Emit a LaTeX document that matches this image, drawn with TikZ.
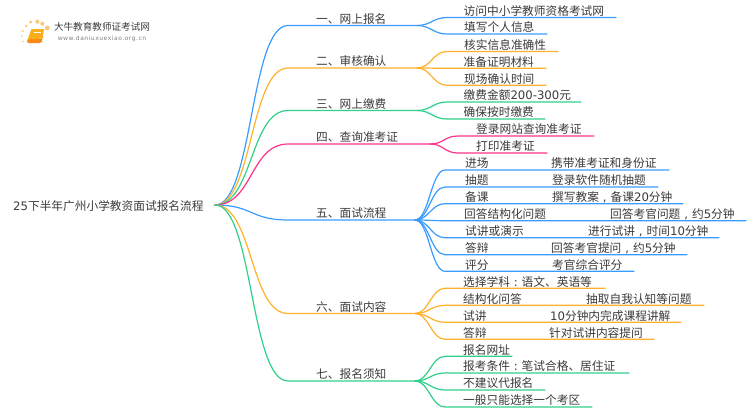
\documentclass[tikz,border=0pt]{standalone}
\usepackage{fontspec}
\setmainfont{Noto Sans CJK SC}
\newfontfamily\latinfont{DejaVu Sans}
\newfontfamily\urlfont[LetterSpace=8.7]{DejaVu Sans}
\newcommand{\wcomma}{\makebox[11.7pt]{\latinfont ,}}
\newcommand{\wcolon}{\makebox[11.7pt]{\latinfont :}}
\definecolor{mapblue}{HTML}{3A9BFF}
\definecolor{maporange}{HTML}{FFB12B}
\definecolor{mapgreen}{HTML}{2FD08A}
\definecolor{mappink}{HTML}{FF3388}
\definecolor{maptext}{HTML}{3A3A3A}
\definecolor{logoorange}{HTML}{F7A11E}
\tikzset{
  leaf/.style={anchor=base west, inner sep=0pt, text=maptext, font=\fontsize{11.7}{14}\selectfont},
  wire/.style={line width=1.2pt, line cap=round},
  bend/.style={out=0, in=180, distance=#1},
  sundot/.style={fill=logoorange!60},
}

\begin{document}
\begin{tikzpicture}[x=1pt, y=-1pt]
\useasboundingbox (0,0) rectangle (750,410);

% logo
\foreach \n/\x/\y/\r in {d1/30.7/22/1.7, d2/37.3/21.7/2, d3/42.3/23.7/2, d4/47.3/28/2.4, d5/26.3/26/1.3, d6/22.7/31/1.1, d7/21.7/36/.9, d8/23/41.5/.8}
  \fill[sundot] (\x,\y) coordinate (\n) circle (\r);
\fill[logoorange!85!red] (27,41) -- (29.5,39) -- (41.5,39) -- (44,29) -- (42,41.5) .. controls (41.5,43) and (41,43) .. (40,43) -- (29,43) .. controls (27.5,43) and (27,42) .. (27,41) -- cycle;
\fill[logoorange!85!yellow] (31.5,29) -- (44,29) -- (41.5,39) -- (29.5,39) -- (27,41) -- cycle;
\draw[white, line width=.5pt] (33.5,32) -- (40.5,32);
\node[inner sep=0pt, text=maptext, font=\fontsize{9.6}{12}\selectfont] (logotitle) at (102,27) {大牛教育教师证考试网};
\node[inner sep=0pt, text=gray, font=\urlfont\fontsize{6}{7}\selectfont] (logourl) at (102,39) {www.daniuxuexiao.org.cn};

% root
\node[leaf] (root) at (13,210) {{\latinfont 25}下半年广州小学教资面试报名流程};
\coordinate (rootend) at (215,205);

% branches
\foreach \n/\y/\e/\c/\t in {b1/25.5/417/mapblue/一、网上报名, b2/68/417/maporange/二、审核确认, b3/110.5/417/mapgreen/三、网上缴费, b4/144/430/mappink/四、查询准考证, b5/220/415/mapblue/五、面试流程, b6/313.5/415/maporange/六、面试内容, b7/381/415/mapgreen/七、报名须知} {
  \coordinate (\n s) at (288,\y);
  \coordinate (\n e) at (\e,\y);
  \node[leaf] (\n) at (316,\y-2.2) {\t};
  \draw[wire, \c] (rootend) to[bend=38pt] (\n s) -- (\n e);
}

% leaves
\foreach \n/\x/\y/\e/\t in {a1/463.5/17.5/616/访问中小学教师资格考试网, a2/464/34/547/填写个人信息} {
  \coordinate (\n s) at (447,\y);
  \coordinate (\n e) at (\e,\y);
  \node[leaf] (\n) at (\x,\y-2.2) {\t};
  \draw[wire, mapblue] (b1e) to[bend=14pt] (\n s) -- (\n e);
}
\foreach \n/\x/\y/\e/\t in {c1/464/51.5/558/核实信息准确性, c2/463.5/68.3/546/准备证明材料, c3/464/85.3/546/现场确认时间} {
  \coordinate (\n s) at (447,\y);
  \coordinate (\n e) at (\e,\y);
  \node[leaf] (\n) at (\x,\y-2.2) {\t};
  \draw[wire, maporange] (b2e) to[bend=14pt] (\n s) -- (\n e);
}
\foreach \n/\x/\y/\e/\t in {f1/463.5/102/581/缴费金额{\latinfont 200-300}元, f2/463.5/119/545/确保按时缴费} {
  \coordinate (\n s) at (447,\y);
  \coordinate (\n e) at (\e,\y);
  \node[leaf] (\n) at (\x,\y-2.2) {\t};
  \draw[wire, mapgreen] (b3e) to[bend=14pt] (\n s) -- (\n e);
}
\foreach \n/\x/\y/\e/\t in {g1/476/136/594/登录网站查询准考证, g2/476/153/547/打印准考证} {
  \coordinate (\n s) at (458,\y);
  \coordinate (\n e) at (\e,\y);
  \node[leaf] (\n) at (\x,\y-2.2) {\t};
  \draw[wire, mappink] (b4e) to[bend=14pt] (\n s) -- (\n e);
}
\foreach \n/\x/\y/\e/\t in {h1/465/170/669/进场, h2/465/187/658/抽题, h3/465/203.7/683/备课, h4/464/220.7/746/回答结构化问题, h5/465/237.7/719/试讲或演示, h6/465/254.7/687/答辩, h7/465/271.3/634/评分} {
  \coordinate (\n s) at (445,\y);
  \coordinate (\n e) at (\e,\y);
  \node[leaf] (\n) at (\x,\y-2.2) {\t};
  \draw[wire, mapblue] (b5e) to[bend=14pt] (\n s) -- (\n e);
}
\foreach \n/\x/\y/\t in {h1b/551/170/携带准考证和身份证, h2b/552/187/登录软件随机抽题, h3b/552/203.7/撰写教案\wcomma 备课{\latinfont 20}分钟, h4b/610/220.7/回答考官问题\wcomma 约{\latinfont 5}分钟, h5b/588/237.7/进行试讲\wcomma 时间{\latinfont 10}分钟, h6b/551/254.7/回答考官提问\wcomma 约{\latinfont 5}分钟, h7b/552/271.3/考官综合评分}
  \node[leaf] (\n) at (\x,\y-2.2) {\t};
\foreach \n/\x/\y/\e/\t in {k1/463/288.3/605/选择学科\wcolon 语文、英语等, k2/463/305.3/704/结构化问答, k3/463/322.3/681/试讲, k4/463/339.3/654/答辩} {
  \coordinate (\n s) at (445,\y);
  \coordinate (\n e) at (\e,\y);
  \node[leaf] (\n) at (\x,\y-2.2) {\t};
  \draw[wire, maporange] (b6e) to[bend=14pt] (\n s) -- (\n e);
}
\foreach \n/\x/\y/\t in {k2b/586/305.3/抽取自我认知等问题, k3b/550/322.3/{\latinfont 10}分钟内完成课程讲解, k4b/549/339.3/针对试讲内容提问}
  \node[leaf] (\n) at (\x,\y-2.2) {\t};
\foreach \n/\x/\y/\e/\t in {m1/463/356.3/512/报名网址, m2/463/373/629/报考条件\wcolon 笔试合格、居住证, m3/463/390/545/不建议代报名, m4/463/407/592/一般只能选择一个考区} {
  \coordinate (\n s) at (445,\y);
  \coordinate (\n e) at (\e,\y);
  \node[leaf] (\n) at (\x,\y-2.2) {\t};
  \draw[wire, mapgreen] (b7e) to[bend=14pt] (\n s) -- (\n e);
}
\end{tikzpicture}
\end{document}
